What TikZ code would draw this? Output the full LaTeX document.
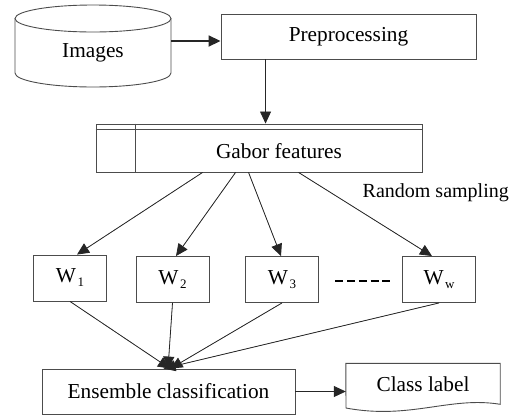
\documentclass[tikz,border=0pt]{standalone}
\usepackage{fontspec}
\setmainfont{Liberation Serif}
\usetikzlibrary{arrows.meta,calc}

\tikzset{
  every node/.style={inner sep=0pt},
  edge line/.style={draw=black!70, line width=0.9pt},
  box/.style={edge line},
  lbl/.style={font=\fontsize{21.3pt}{25pt}\selectfont},
  wbox/.style={box, lbl, minimum width=73pt, minimum height=46pt},
  arr/.style={-{Triangle[length=12pt,width=11pt]}, line width=0.8pt, draw=black!85, fill=black},
}
\newcommand\wsub[1]{\kern1.5pt\raisebox{-4pt}{\fontsize{13pt}{13pt}\selectfont #1}}

\begin{document}
\begin{tikzpicture}[x=1pt,y=-1pt]
\useasboundingbox (0,0) rectangle (511,416);

% image store (cylinder)
\draw[edge line] (15,18.5) -- (15,73)
  arc[start angle=180, end angle=360, x radius=78pt, y radius=14pt] -- (171,18.5);
\draw[edge line] (93,18.5) ellipse [x radius=78pt, y radius=13.5pt];
\node[lbl] (img) at (93,53) {Images};
\coordinate (imgR) at (171,41);

% preprocessing
\node[box, lbl, minimum width=255pt, minimum height=45pt] (pre) at (348.5,36.5) {Preprocessing};
\draw[arr, line width=1.8pt] (imgR) -- (imgR -| pre.west);

% gabor features (internal storage symbol)
\node[box, minimum width=326pt, minimum height=48pt] (gab) at (259,148) {};
\draw[edge line] ($(gab.north west)+(0,6)$) -- ($(gab.north east)+(0,6)$);
\draw[edge line] ($(gab.north west)+(40,0)$) -- ($(gab.south west)+(40,0)$);
\node[lbl] (gabtxt) at (279,151) {Gabor features};
\draw[arr] ($(pre.south west)+(45,0)$) coordinate (p1) -- (p1 |- gab.north);

% random subspaces
\node[wbox] (w1) at (70,278) {W\wsub{1}};
\node[wbox] (w2) at (172.5,279.5) {W\wsub{2}};
\node[wbox] (w3) at (282,279.5) {W\wsub{3}};
\node[wbox] (ww) at (439,279.5) {W\wsub{w}};
\draw[line width=2.6pt, dash pattern=on 8pt off 3.75pt]
  ($(w3.east)+(16.5,1.5)$) -- ($(ww.west)+(-12.5,1.5)$);

\node[font=\fontsize{20pt}{24pt}\selectfont, anchor=east] (rs) at (509,193) {Random sampling};

\draw[arr] ($(gab.south west)+(107,0)$) -- ($(w1.north)+(7,0)$);
\draw[arr] ($(gab.south west)+(140,0)$) -- ($(w2.north)+(3.5,0)$);
\draw[arr] ($(gab.south west)+(153,0)$) -- ($(w3.north)+(-1,0)$);
\draw[arr] ($(gab.south west)+(203,0)$) -- ($(ww.north)+(-7,0)$);

% ensemble classification
\node[box, lbl, minimum width=253pt, minimum height=45pt] (ens) at (168.5,391.5) {Ensemble classification};
\draw[arr] (w1.south) -- ($(ens.north)+(1.5,0)$);
\draw[arr] (w2.south) -- ($(ens.north)+(-0.5,0)$);
\draw[arr] (w3.south) -- ($(ens.north)+(2,0)$);
\draw[arr] (ww.south) -- ($(ens.north)+(-5,0)$);

% class label (document symbol)
\node[lbl, minimum width=154pt, minimum height=41pt] (cls) at (423,384) {Class label};
\draw[edge line] (cls.north west) -- (cls.north east) -- ++(0,41)
  .. controls (450,396) and (410,420) .. (346,408) -- cycle;
\draw[arr] (ens.east) -- (ens.east -| cls.west);
\end{tikzpicture}
\end{document}
